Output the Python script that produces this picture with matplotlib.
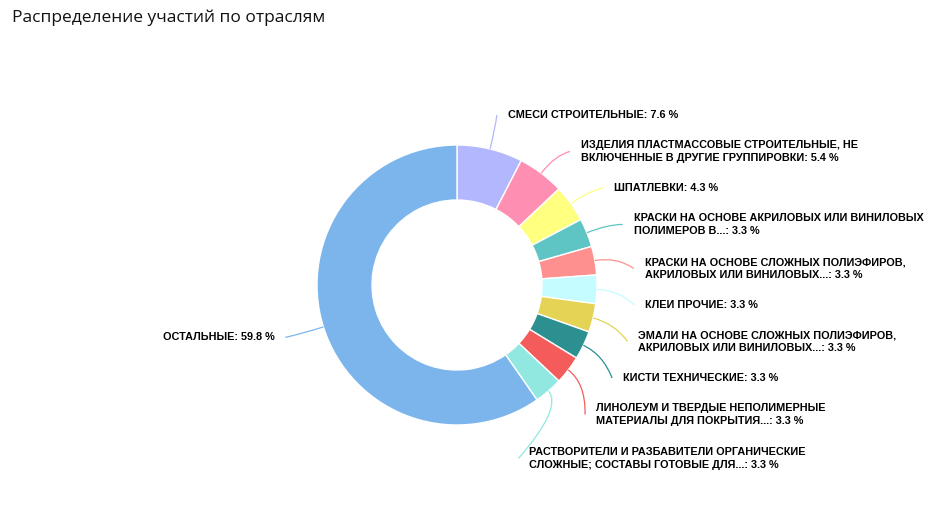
import numpy as np
import matplotlib.pyplot as plt
from matplotlib.path import Path
from matplotlib.patches import PathPatch

title = 'Распределение участий по отраслям'
labels = [
    'СМЕСИ СТРОИТЕЛЬНЫЕ: 7.6 %',
    'ИЗДЕЛИЯ ПЛАСТМАССОВЫЕ СТРОИТЕЛЬНЫЕ, НЕ\nВКЛЮЧЕННЫЕ В ДРУГИЕ ГРУППИРОВКИ: 5.4 %',
    'ШПАТЛЕВКИ: 4.3 %',
    'КРАСКИ НА ОСНОВЕ АКРИЛОВЫХ ИЛИ ВИНИЛОВЫХ\nПОЛИМЕРОВ В...: 3.3 %',
    'КРАСКИ НА ОСНОВЕ СЛОЖНЫХ ПОЛИЭФИРОВ,\nАКРИЛОВЫХ ИЛИ ВИНИЛОВЫХ...: 3.3 %',
    'КЛЕИ ПРОЧИЕ: 3.3 %',
    'ЭМАЛИ НА ОСНОВЕ СЛОЖНЫХ ПОЛИЭФИРОВ,\nАКРИЛОВЫХ ИЛИ ВИНИЛОВЫХ...: 3.3 %',
    'КИСТИ ТЕХНИЧЕСКИЕ: 3.3 %',
    'ЛИНОЛЕУМ И ТВЕРДЫЕ НЕПОЛИМЕРНЫЕ\nМАТЕРИАЛЫ ДЛЯ ПОКРЫТИЯ...: 3.3 %',
    'РАСТВОРИТЕЛИ И РАЗБАВИТЕЛИ ОРГАНИЧЕСКИЕ\nСЛОЖНЫЕ; СОСТАВЫ ГОТОВЫЕ ДЛЯ...: 3.3 %',
    'ОСТАЛЬНЫЕ: 59.8 %',
]
values = [7.6, 5.4, 4.3, 3.3, 3.3, 3.3, 3.3, 3.3, 3.3, 3.3, 59.8]
colors = ['#b3b7fd', '#ff8fb2', '#ffff80', '#5fc4c4', '#ff9090', '#c4fcff',
          '#e4d354', '#2b908f', '#f45b5b', '#91e8e1', '#7cb5ec']

W, H = 932, 507
cx, cy = 457, 285          # pixel coords, y down
R, hole = 140, 85

fig = plt.figure(figsize=(W / 100, H / 100), dpi=100)
ax = fig.add_axes([0, 0, 1, 1])
wedges, _ = ax.pie(values, colors=colors, startangle=90, counterclock=False,
                   radius=R, center=(cx, H - cy),
                   wedgeprops=dict(width=R - hole, edgecolor='white', linewidth=1))
ax.set_xlim(0, W)
ax.set_ylim(0, H)
ax.set_aspect('equal')
ax.axis('off')

# label placement, highcharts style
r_lab = 175
r_x, cy_x = 180, cy + 5
line_h = 15
gap = 14
items = []
for i, w in enumerate(wedges):
    mid = np.deg2rad((w.theta1 + w.theta2) / 2)
    y_nat = cy - r_lab * np.sin(mid)
    side = 1 if np.cos(mid) >= 0 else -1
    n = labels[i].count('\n') + 1
    items.append(dict(i=i, mid=mid, y=y_nat, side=side, h=n * line_h))

for side in (1, -1):
    group = sorted([it for it in items if it['side'] == side], key=lambda d: d['y'])
    for a, b in zip(group[:-1], group[1:]):
        need = a['y'] + a['h'] / 2 + b['h'] / 2 + gap
        if b['y'] < need:
            b['y'] = need

for it in items:
    i, mid, side, y = it['i'], it['mid'], it['side'], it['y']
    dy = y - cy_x
    dx = np.sqrt(max(r_x ** 2 - dy ** 2, 0))
    x_end = cx + side * dx
    # connector
    p0 = (cx + R * np.cos(mid), H - (cy - R * np.sin(mid)))
    p1 = (cx + (R + 22) * np.cos(mid), H - (cy - (R + 22) * np.sin(mid)))
    p2 = (x_end - side * 2, H - y)
    path = Path([p0, p1, p2], [Path.MOVETO, Path.CURVE3, Path.CURVE3])
    ax.add_patch(PathPatch(path, fc='none', ec=colors[i], lw=0.9))
    ax.text(x_end + side * 9, H - y, labels[i], ha='left' if side > 0 else 'right',
            va='center', fontsize=7.8, fontweight='bold', color='black',
            linespacing=1.35, family='Liberation Sans')

fig.text(12 / W, 1 - 18 / H, title, fontsize=12.5, family='Open Sans',
         color='#111111', va='center', ha='left')

fig.savefig('out.png', dpi=100)
